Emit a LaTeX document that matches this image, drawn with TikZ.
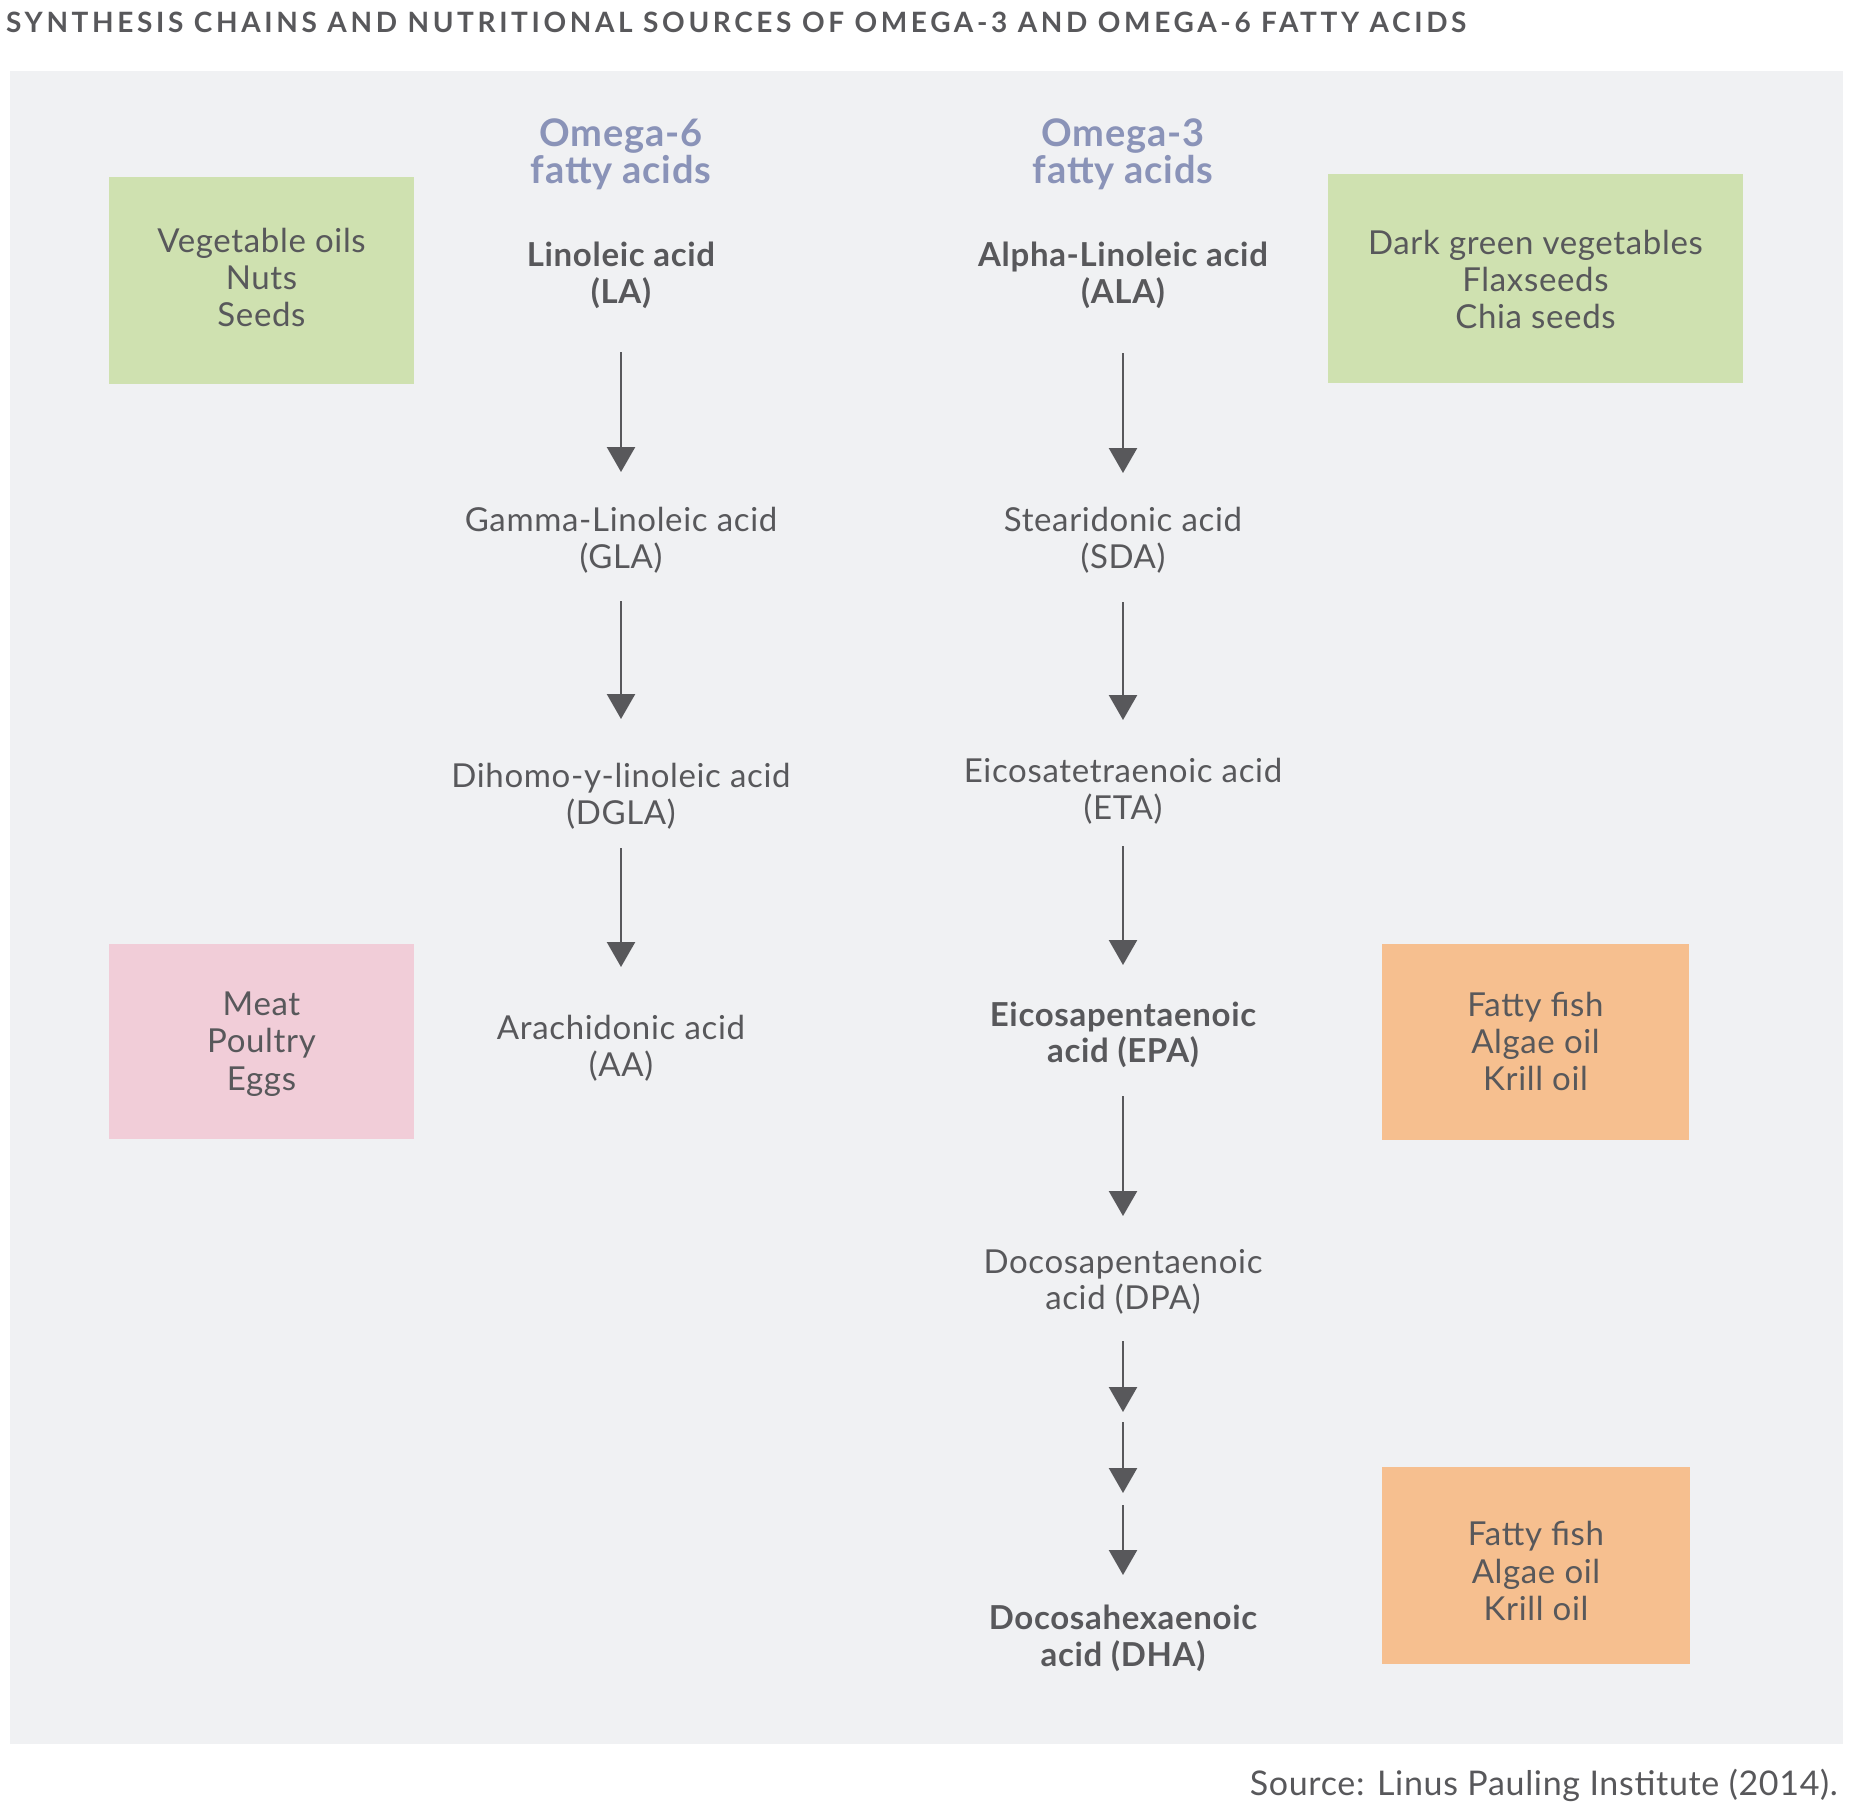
\documentclass[tikz,border=0pt]{standalone}
\usepackage{fontspec}
\setmainfont{Lato}
\usetikzlibrary{arrows.meta}
\definecolor{panel}{HTML}{F0F1F3}
\definecolor{veg}{HTML}{CFE1B0}
\definecolor{meat}{HTML}{F1CDD8}
\definecolor{fish}{HTML}{F6BF8F}
\definecolor{hdr}{HTML}{8A93B8}
\definecolor{ink}{HTML}{58585B}
\begin{document}
\begin{tikzpicture}[x=1pt,y=-1pt,
  txt/.style={font=\fontsize{33}{36.7}\selectfont\addfontfeatures{LetterSpace=2}, text=ink, align=center, inner sep=0pt},
  btxt/.style={txt, font=\fontsize{33}{36.7}\selectfont\bfseries\addfontfeatures{LetterSpace=2}},
  hdrtxt/.style={font=\fontsize{38}{37}\selectfont\bfseries\addfontfeatures{LetterSpace=2}, text=hdr, align=center, inner sep=0pt},
  srcbox/.style={txt, font=\fontsize{33}{37.4}\selectfont\addfontfeatures{LetterSpace=2}},
  arr/.style={draw=ink, line width=2.5pt, -{Triangle[width=28pt,length=25pt]}}
]
\useasboundingbox (0,0) rectangle (1858,1810);
\fill[panel] (10,71) rectangle (1843,1744);
% title
\node[anchor=base west, text=ink, inner sep=0pt, font=\fontsize{28}{30}\selectfont\bfseries] (title) at (6,32)
  {\addfontfeatures{LetterSpace=13}SYNTHESIS CHAINS AND NUTRITIONAL SOURCES OF OMEGA-3 AND OMEGA-6 FATTY ACIDS};
% headers
\node[hdrtxt] (h6) at (621,154) {Omega-6\\fatty acids};
\node[hdrtxt] (h3) at (1123,154) {Omega-3\\fatty acids};
% source boxes
\node[fill=veg, minimum width=305pt, minimum height=207pt, inner sep=0pt] (vegl) at (261.5,280.5) {};
\node[srcbox] (veglt) at (261.5,277.5) {Vegetable oils\\Nuts\\Seeds};
\node[fill=veg, minimum width=415pt, minimum height=209pt, inner sep=0pt] (vegr) at (1535.5,278.5) {};
\node[srcbox] (vegrt) at (1535.5,279.5) {Dark green vegetables\\Flaxseeds\\Chia seeds};
\node[fill=meat, minimum width=305pt, minimum height=195pt, inner sep=0pt] (meatb) at (261.5,1041.5) {};
\node[srcbox] (meatt) at (261.5,1044) {Meat\\Poultry\\Eggs};
\node[fill=fish, minimum width=307pt, minimum height=196pt, inner sep=0pt] (fish1) at (1535.5,1042) {};
\node[srcbox] (fish1t) at (1535.5,1041.5) {Fatty fish\\Algae oil\\Krill oil};
\node[fill=fish, minimum width=308pt, minimum height=197pt, inner sep=0pt] (fish2) at (1536,1565.5) {};
\node[srcbox] (fish2t) at (1536,1571) {Fatty fish\\Algae oil\\Krill oil};
% omega-6 chain
\node[btxt] (la) at (621,275.5) {Linoleic acid\\(LA)};
\node[txt] (gla) at (621,540) {Gamma-Linoleic acid\\(GLA)};
\node[txt] (dgla) at (621,796) {Dihomo-y-linoleic acid\\(DGLA)};
\node[txt] (aa) at (621,1048) {Arachidonic acid\\(AA)};
% omega-3 chain
\node[btxt] (ala) at (1123,275.5) {Alpha-Linoleic acid\\(ALA)};
\node[txt] (sda) at (1123,540) {Stearidonic acid\\(SDA)};
\node[txt] (eta) at (1123,791) {Eicosatetraenoic acid\\(ETA)};
\node[btxt] (epa) at (1123,1035) {Eicosapentaenoic\\acid (EPA)};
\node[txt] (dpa) at (1123,1282) {Docosapentaenoic\\acid (DPA)};
\node[btxt] (dha) at (1123,1638) {Docosahexaenoic\\acid (DHA)};
% arrows omega-6
\draw[arr, shorten <=76.5pt, shorten >=68pt] (la.center) -- (gla.center);
\draw[arr, shorten <=61pt, shorten >=77pt] (gla.center) -- (dgla.center);
\draw[arr, shorten <=52pt, shorten >=81pt] (dgla.center) -- (aa.center);
% arrows omega-3
\draw[arr, shorten <=77.5pt, shorten >=67pt] (ala.center) -- (sda.center);
\draw[arr, shorten <=62pt, shorten >=71pt] (sda.center) -- (eta.center);
\draw[arr, shorten <=55pt, shorten >=70pt] (eta.center) -- (epa.center);
\draw[arr, shorten <=61pt, shorten >=66pt] (epa.center) -- (dpa.center);
\draw[arr, shorten <=59pt, shorten >=226pt] (dpa.center) -- (dha.center);
\draw[arr, shorten <=140pt, shorten >=145pt] (dpa.center) -- (dha.center);
\draw[arr, shorten <=223pt, shorten >=63pt] (dpa.center) -- (dha.center);
% source
\node[anchor=east, text=ink, inner sep=0pt, font=\fontsize{34}{36}\selectfont\addfontfeatures{LetterSpace=2}] (src) at (1838,1785) {Source: Linus Pauling Institute (2014).};
\end{tikzpicture}
\end{document}
